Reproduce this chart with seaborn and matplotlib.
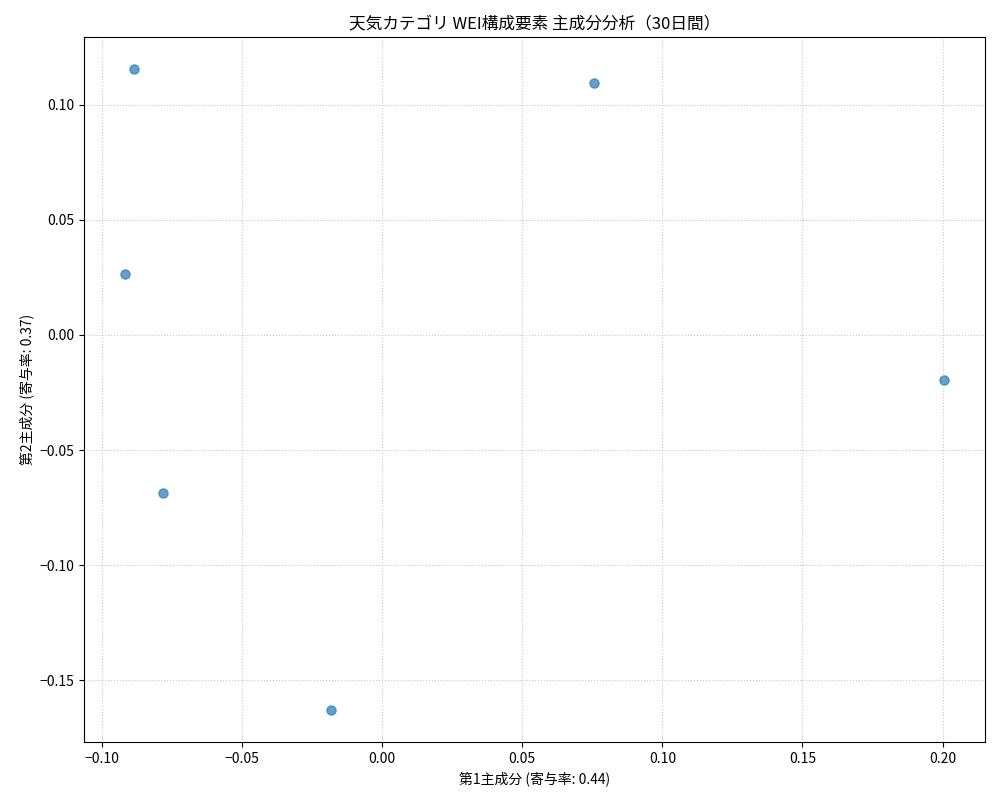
import matplotlib
matplotlib.use('Agg')
import matplotlib.pyplot as plt
import seaborn as sns
import pandas as pd

plt.rcParams['font.family'] = ['Noto Sans CJK JP', 'DejaVu Sans']
plt.rcParams['axes.unicode_minus'] = True

# 主成分スコア
pc1 = [-0.0885, 0.0756, -0.0917, 0.2005, -0.0781, -0.0182]
pc2 = [0.1157, 0.1096, 0.0265, -0.0196, -0.0687, -0.1630]
ratio1 = 0.44
ratio2 = 0.37

df = pd.DataFrame({'PC1': pc1, 'PC2': pc2})

fig, ax = plt.subplots(figsize=(10, 8), dpi=100)
sns.scatterplot(data=df, x='PC1', y='PC2', ax=ax, alpha=0.7, s=45,
                color='#1f77b4', edgecolor='#1f77b4', linewidth=0.8)
ax.set_title('天気カテゴリ WEI構成要素 主成分分析（30日間）')
ax.set_xlabel(f'第1主成分 (寄与率: {ratio1:.2f})')
ax.set_ylabel(f'第2主成分 (寄与率: {ratio2:.2f})')
ax.grid(True, linestyle=':', alpha=0.7)
fig.subplots_adjust(left=0.084, right=0.985, top=0.954, bottom=0.0725)
fig.savefig('out.png')
